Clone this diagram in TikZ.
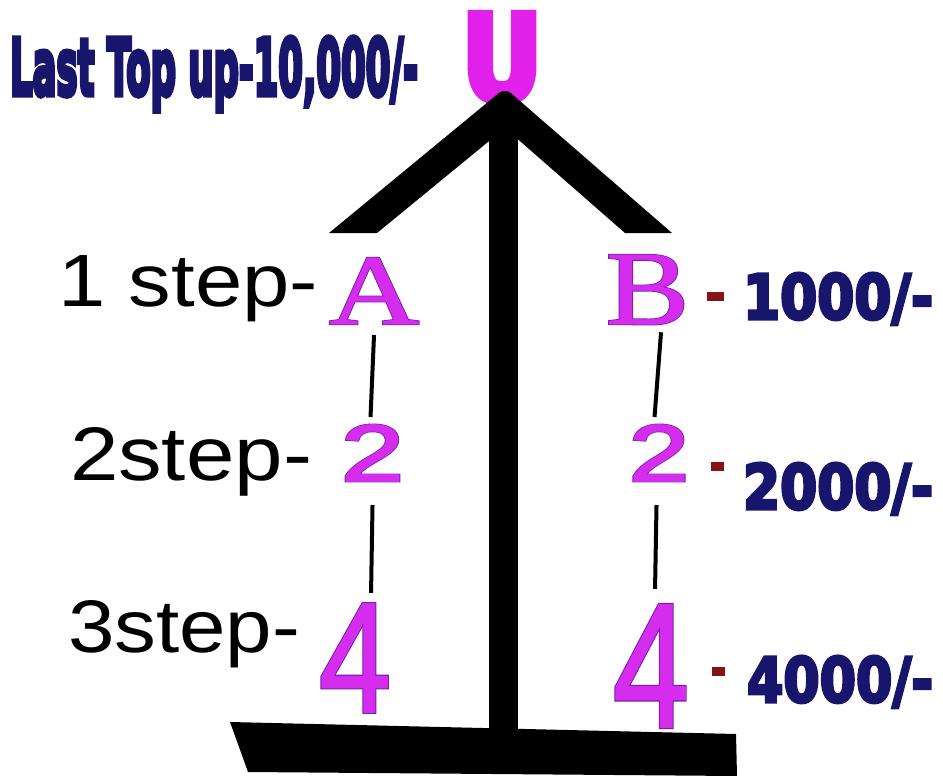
\documentclass[tikz,border=0pt]{standalone}
\usepackage{fontspec}
\usepackage{graphicx}
\setmainfont{Liberation Sans}
\newfontfamily\serifface{Liberation Serif}[FakeBold=0.7]
\newfontfamily\serifedge{Liberation Serif}[FakeBold=2.2]
\newfontfamily\titleface{DejaVu Sans}[FakeBold=7]
\newfontfamily\amountface{DejaVu Sans}[FakeBold=5]
\newfontfamily\uface{DejaVu Sans}[FakeBold=7]
\newfontfamily\twoface{Liberation Sans}[FakeBold=2]
\newfontfamily\twoedge{Liberation Sans}[FakeBold=3.6]
\newfontfamily\fourface{Liberation Sans}[FakeBold=1]
\newfontfamily\fouredge{Liberation Sans}[FakeBold=2.4]
\definecolor{navy}{RGB}{24,22,108}
\definecolor{dred}{RGB}{135,20,20}
\definecolor{umag}{RGB}{226,32,236}
\definecolor{lmag}{RGB}{214,44,238}
\definecolor{dpurp}{RGB}{115,32,170}
\tikzset{
  lbl/.style={anchor=base west, inner sep=0pt, outer sep=0pt},
  maglbl/.style={lbl, text=lmag},
  edgelbl/.style={lbl, text=dpurp},
  navylbl/.style={lbl, text=navy},
  link/.style={line width=4pt, black},
  solidblack/.style={fill=black},
  dashbox/.style={fill=dred}
}
\begin{document}
\begin{tikzpicture}[x=1pt,y=-1pt]
\fill[white] (0,0) rectangle (943,776);
\useasboundingbox (0,0) rectangle (943,776);
% top letter U
\node[lbl, text=umag] (U) at (462,100) {\resizebox{80pt}{86pt}{\uface\bfseries U}};
% arms
\fill[solidblack] (329,233) [rounded corners=8pt] -- (505,88) [sharp corners] -- (672,233) -- (625,233) -- (505,128) -- (377,233) -- cycle;
% pole
\fill[solidblack] (489,110) rectangle (518,730);
% base
\fill[solidblack] (230,722) -- (736,734) -- (737,776) -- (248,772) -- cycle;
% title
\node[navylbl] (title) at (10,95) {\resizebox{408pt}{58pt}{\titleface\bfseries Last Top up-10,000/-}};
% step labels
\node[lbl] (s1) at (58,306) {\resizebox{260pt}{51pt}{1 step-}};
\node[lbl] (s2) at (70,480) {\resizebox{242pt}{53pt}{2step-}};
\node[lbl] (s3) at (68,652) {\resizebox{232pt}{52pt}{3step-}};
% magenta letters: dark edge layer, then fill layer
\node[edgelbl] (Ae) at (329,324) {\resizebox{90pt}{66pt}{\serifedge A}};
\node[maglbl] (A) at (329,324) {\resizebox{90pt}{66pt}{\serifface A}};
\node[edgelbl] (Be) at (606,324) {\resizebox{83pt}{69pt}{\serifedge B}};
\node[maglbl] (B) at (606,324) {\resizebox{83pt}{69pt}{\serifface B}};
\node[edgelbl] (A2e) at (341,481) {\resizebox{63pt}{56pt}{\twoedge 2}};
\node[maglbl] (A2) at (341,481) {\resizebox{63pt}{56pt}{\twoface 2}};
\node[edgelbl] (B2e) at (629,481) {\resizebox{60pt}{56pt}{\twoedge 2}};
\node[maglbl] (B2) at (629,481) {\resizebox{60pt}{56pt}{\twoface 2}};
\node[edgelbl] (A4e) at (319,712) {\resizebox{72pt}{108pt}{\fouredge 4}};
\node[maglbl] (A4) at (319,712) {\resizebox{72pt}{108pt}{\fourface 4}};
\node[edgelbl] (B4e) at (613,727) {\resizebox{76pt}{122pt}{\fouredge 4}};
\node[maglbl] (B4) at (613,727) {\resizebox{76pt}{122pt}{\fourface 4}};
% amounts
\fill[dashbox] (707,292) rectangle (724,301);
\fill[dashbox] (711,462) rectangle (724,471);
\fill[dashbox] (712,667) rectangle (725,676);
\node[navylbl] (m1) at (743,319) {\resizebox{190pt}{46pt}{\amountface\bfseries 1000/-}};
\node[navylbl] (m2) at (743,509) {\resizebox{190pt}{46pt}{\amountface\bfseries 2000/-}};
\node[navylbl] (m3) at (747,702) {\resizebox{186pt}{46pt}{\amountface\bfseries 4000/-}};
% links
\draw[link] ([xshift=0pt,yshift=-11pt]A.south) -- ([xshift=-2pt,yshift=8pt]A2.north);
\draw[link] ([xshift=0pt,yshift=-24pt]A2.south) -- ([xshift=16pt,yshift=11pt]A4.north);
\draw[link] ([xshift=13.5pt,yshift=-8pt]B.south) -- ([xshift=-4.5pt,yshift=8pt]B2.north);
\draw[link] ([xshift=-2.5pt,yshift=-24pt]B2.south) -- ([xshift=4pt,yshift=16pt]B4.north);
\end{tikzpicture}
\end{document}
